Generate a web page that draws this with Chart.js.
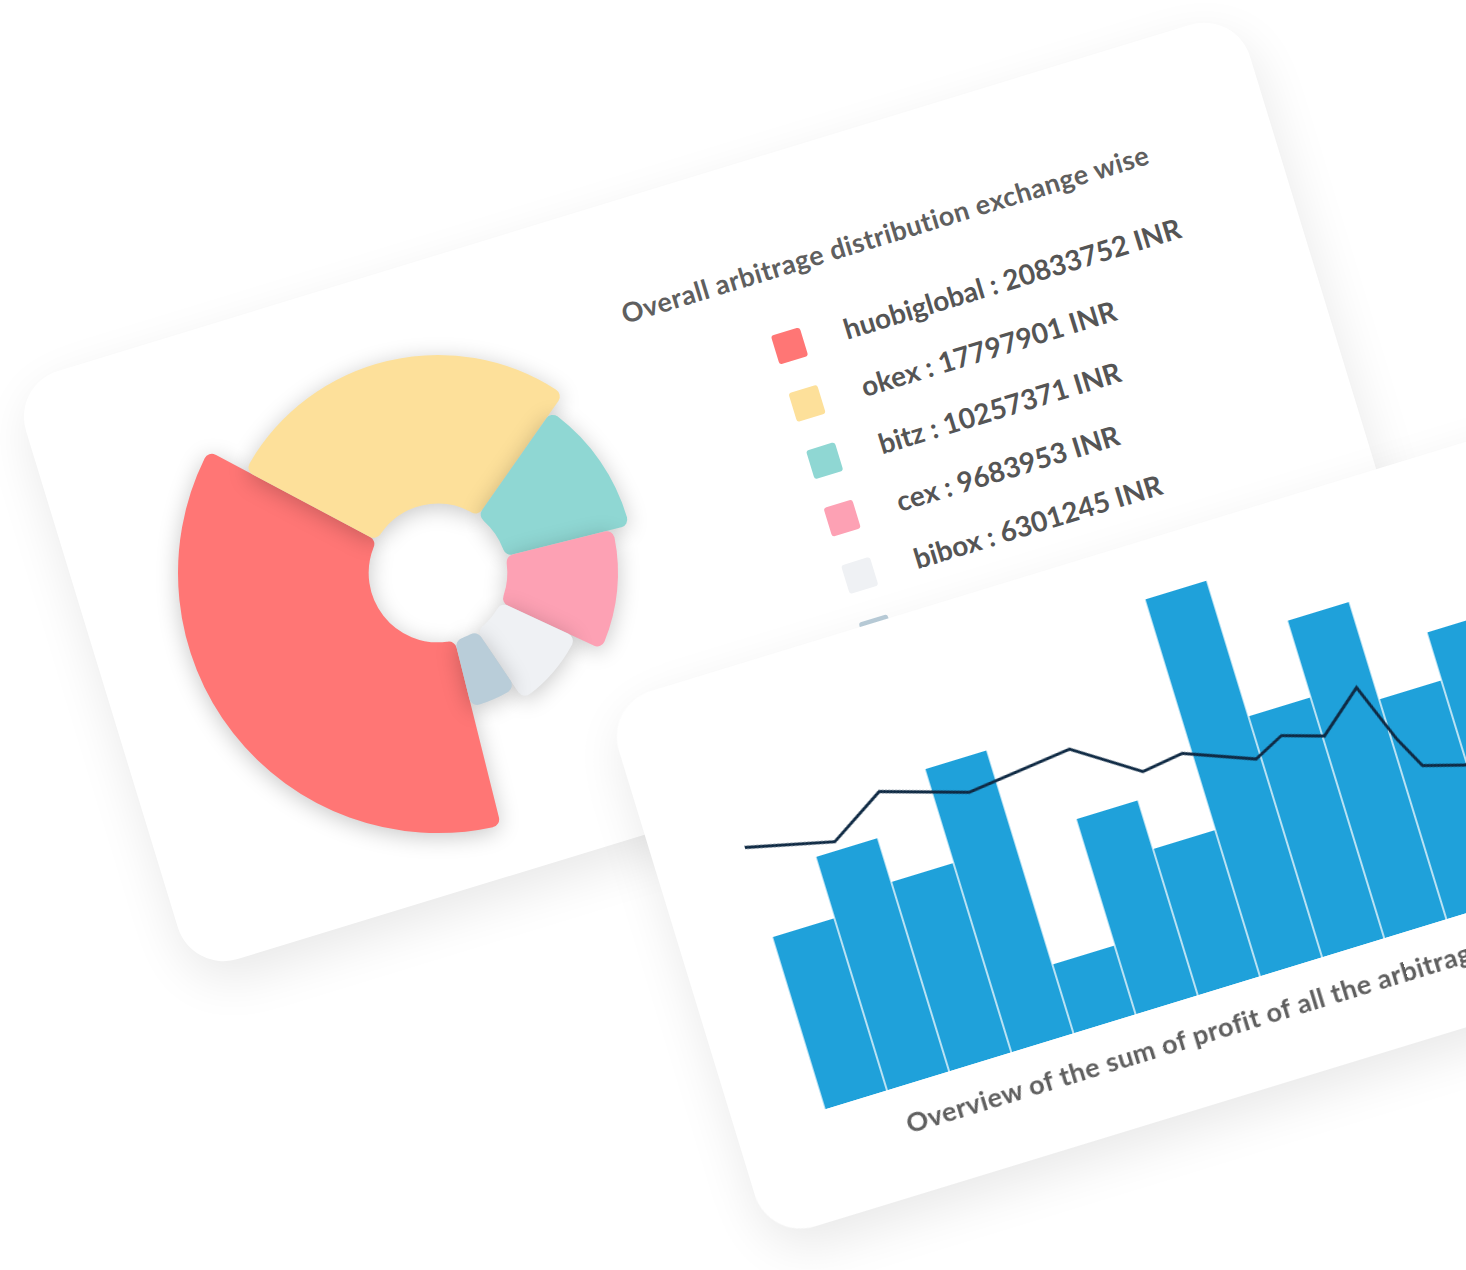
<!DOCTYPE html>
<html>
<head>
<meta charset="utf-8">
<script src="https://cdn.jsdelivr.net/npm/chart.js@4.4.1/dist/chart.umd.min.js"></script>
<style>
  html, body { margin: 0; width: 1466px; height: 1270px; overflow: hidden; background: #fff; font-family: Lato, "Open Sans", sans-serif; }
  .card { position: absolute; background: #fff; border-radius: 48px; transform-origin: 0 0; transform: rotate(-17deg);
    box-shadow: 0 18px 50px rgba(0,0,0,0.09); }
  #card1 { left: 12px; top: 385px; width: 1280px; height: 615px; }
  #card2 { left: 605px; top: 705px; width: 1100px; height: 560px; }
  .title { position: absolute; color: #5f5f5f; font-weight: 700; font-size: 27px; letter-spacing: 0.5px; white-space: nowrap; }
  #legend { position: absolute; left: 740px; top: 160px; }
  .item { height: 60px; display: flex; align-items: center; color: #555; font-weight: 700; font-size: 28px; white-space: nowrap; }
  .sw { width: 30px; height: 30px; border-radius: 3px; margin-right: 42px; }
  #donutWrap { position: absolute; left: 138px; top: 273px; width: 600px; height: 600px; }
  #barWrap { position: absolute; left: 92px; top: 40px; width: 910px; height: 411px; }
</style>
</head>
<body>
<div id="card1" class="card">
  <div class="title" style="left:604px; top:94px;">Overall arbitrage distribution exchange wise</div>
  <div id="legend"></div>
</div>
<div id="donutWrap"><canvas id="donut" width="600" height="600"></canvas></div>
<div id="card2" class="card">
  <div id="barWrap"><canvas id="bars" width="910" height="411"></canvas></div>
  <div class="title" style="left:166px; top:472px;">Overview of the sum of profit of all the arbitrage</div>
</div>
<script>
  const exchanges = ['huobiglobal', 'okex', 'bitz', 'cex', 'bibox', 'other'];
  const profitsInr = [20833752, 17797901, 10257371, 9683953, 6301245, 4100000];
  const sliceShares = [132, 97, 41, 39, 31, 20];
  const sliceRadii = [260, 218, 197, 180, 152, 138];
  const sliceColors = ['#ff7675', '#fde09a', '#8fd7d3', '#fda1b4', '#eff1f4', '#b9cdd9'];

  const barValues = [180, 244, 198, 296, 72, 204, 153, 394, 252, 332, 230, 280, 200, 310];
  const lineX = [-0.57, 0.85, 1.73, 3.05, 4.72, 5.7, 6.36, 7.42, 7.9, 8.53, 9.22, 9.58, 9.84, 10.47, 11.3, 12.2, 13.4];
  const lineY = [275, 253, 288, 261, 273, 230, 236, 209, 224, 211, 248, 187, 154, 142, 150, 190, 170];

  const legend = document.getElementById('legend');
  exchanges.forEach((name, i) => {
    const row = document.createElement('div');
    row.className = 'item';
    row.innerHTML = `<span class="sw" style="background:${sliceColors[i]}"></span>${i < 5 ? `${name} : ${profitsInr[i]} INR` : ''}`;
    legend.appendChild(row);
  });

  const radiusPlugin = {
    id: 'radii',
    afterDatasetsUpdate(chart) {
      chart.getDatasetMeta(0).data.forEach((arc, i) => { arc.outerRadius = sliceRadii[i]; });
    },
    beforeDatasetsDraw(chart) {
      const ctx = chart.ctx;
      ctx.save();
      ctx.shadowColor = 'rgba(0,0,0,0.22)';
      ctx.shadowBlur = 22;
      ctx.shadowOffsetY = 4;
    },
    afterDatasetsDraw(chart) { chart.ctx.restore(); },
  };

  new Chart(document.getElementById('donut'), {
    type: 'doughnut',
    data: { labels: exchanges, datasets: [{ data: sliceShares, backgroundColor: sliceColors, borderWidth: 0, borderRadius: 8 }] },
    options: {
      responsive: false, animation: false, rotation: 166, cutout: 80, radius: 260,
      plugins: { legend: { display: false }, tooltip: { enabled: false } },
    },
    plugins: [radiusPlugin],
  });

  new Chart(document.getElementById('bars'), {
    type: 'bar',
    data: {
      datasets: [
        { type: 'line', data: lineX.map((x, i) => ({ x, y: lineY[i] })), borderColor: '#0f2a44', borderWidth: 3,
          pointRadius: 0, tension: 0, clip: false, order: 0 },
        { type: 'bar', data: barValues.map((y, i) => ({ x: i, y })), backgroundColor: '#1fa1da', borderColor: '#ffffff',
          borderWidth: { left: 1, right: 1 }, barThickness: 65, grouped: false, order: 1 },
      ],
    },
    options: {
      responsive: false, animation: false,
      layout: { padding: 0 },
      plugins: { legend: { display: false }, tooltip: { enabled: false } },
      scales: {
        x: { type: 'linear', display: false, min: -0.5, max: 13.5, offset: false },
        y: { display: false, min: 0, max: 411 },
      },
    },
  });
</script>
</body>
</html>
